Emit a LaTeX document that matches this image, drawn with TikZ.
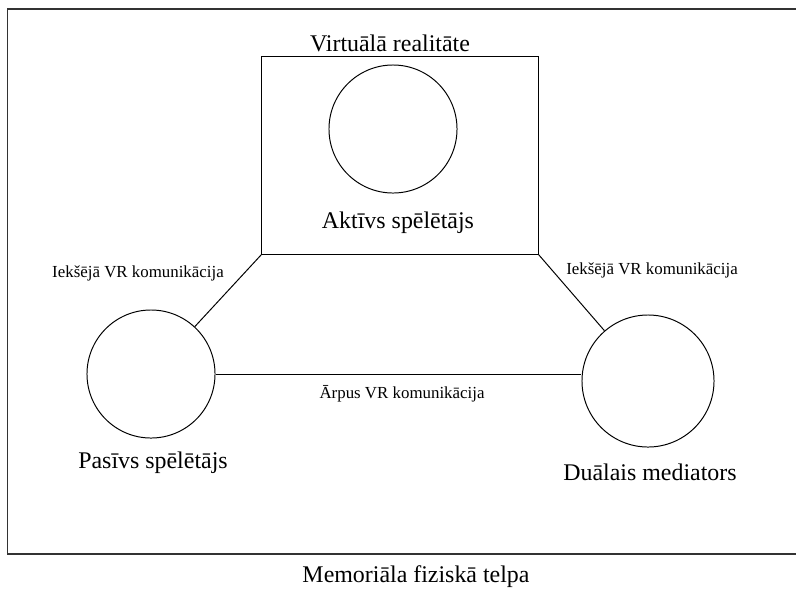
\documentclass[tikz,border=0pt]{standalone}
\usepackage{fontspec}
\setmainfont{Liberation Serif}
\usetikzlibrary{positioning}

\tikzset{
    person/.style={draw, circle, line width=0.7pt, minimum size=3.2cm, inner sep=0pt},
    bigtext/.style={font=\fontsize{17}{20}\selectfont},
    smalltext/.style={font=\fontsize{12}{14}\selectfont}
}

\begin{document}
\begin{tikzpicture}[x=0.025cm, y=-0.025cm, line width=0.7pt]
                \useasboundingbox (0,0) rectangle (796,588);
                \scope
                    \clip (0,0) rectangle (796,588);
                    \draw[line width=1.4pt, black!80] (7.5,9) rectangle (810,554);
                \endscope
                \node[draw, minimum width=6.9cm, minimum height=4.925cm, inner sep=0pt] (vr) at (400,155.5) {};
                \node[bigtext] (vrlabel) at (390,43) {Virtuālā realitāte};
                \node[person] (aktivs) at (393,129) {};
                \node[bigtext] (aktivslabel) at (398,223) {Aktīvs spēlētājs};
                \node[person] (pasivs) at (151,374) {};
                \node[bigtext] (pasivslabel) at (153,463) {Pasīvs spēlētājs};
                \node[person, minimum size=3.3cm] (dualais) at (648,381) {};
                \node[bigtext] (dualaislabel) at (650,472) {Duālais mediators};
                \node[bigtext] (telpa) at (416,577) {Memoriāla fiziskā telpa};
                \draw (vr.south west) -- (pasivs);
                \draw (vr.south east) -- (dualais);
                \draw (pasivs.east) -- (pasivs.east -| dualais.west);
                \node[smalltext] (iekslabelA) at (138,273) {Iekšējā VR komunikācija};
                \node[smalltext] (iekslabelB) at (652,270) {Iekšējā VR komunikācija};
                \node[smalltext] (arpuslabel) at (402,394) {Ārpus VR komunikācija};
            \end{tikzpicture}
\end{document}
